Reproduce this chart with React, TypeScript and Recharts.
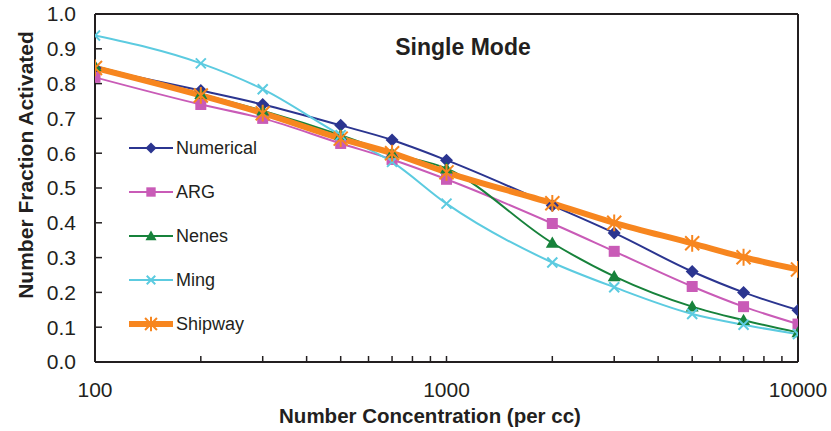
import React from "react";
import {
  Legend,
  Line,
  LineChart,
  ReferenceLine,
  XAxis,
  YAxis,
} from "recharts";

const concentrations = [100, 200, 300, 500, 700, 1000, 2000, 3000, 5000, 7000, 10000];
const numerical = [0.845, 0.78, 0.74, 0.68, 0.638, 0.58, 0.45, 0.371, 0.26, 0.2, 0.149];
const arg = [0.818, 0.74, 0.7, 0.628, 0.582, 0.525, 0.398, 0.318, 0.217, 0.159, 0.109];
const nenes = [0.85, 0.77, 0.722, 0.652, 0.6, 0.556, 0.342, 0.246, 0.159, 0.12, 0.085];
const ming = [0.938, 0.858, 0.784, 0.652, 0.575, 0.455, 0.286, 0.215, 0.138, 0.107, 0.08];
const shipway = [0.845, 0.766, 0.715, 0.642, 0.6, 0.545, 0.456, 0.4, 0.341, 0.301, 0.266];

const xTicks = [
  100, 200, 300, 400, 500, 600, 700, 800, 900,
  1000, 2000, 3000, 4000, 5000, 6000, 7000, 8000, 9000, 10000,
];
const xLabels = [100, 1000, 10000];
const yTicks = [0, 0.1, 0.2, 0.3, 0.4, 0.5, 0.6, 0.7, 0.8, 0.9, 1.0];

const rows = concentrations.map((c, i) => ({
  conc: c,
  numerical: numerical[i],
  arg: arg[i],
  nenes: nenes[i],
  ming: ming[i],
  shipway: shipway[i],
}));

type Shape = "diamond" | "square" | "triangle" | "x" | "star";

const SERIES: { key: string; name: string; color: string; width: number; shape: Shape }[] = [
  { key: "numerical", name: "Numerical", color: "#2b3590", width: 2, shape: "diamond" },
  { key: "arg", name: "ARG", color: "#c95bb7", width: 2, shape: "square" },
  { key: "nenes", name: "Nenes", color: "#17823b", width: 2, shape: "triangle" },
  { key: "ming", name: "Ming", color: "#5ccbe0", width: 2, shape: "x" },
  { key: "shipway", name: "Shipway", color: "#f7861f", width: 6, shape: "star" },
];

const INK = "#231f20";
const FONT = "'Liberation Sans', Arial, sans-serif";

function Marker({ cx, cy, shape, color, s = 1 }: { cx: number; cy: number; shape: Shape; color: string; s?: number }) {
  if (cx == null || cy == null) return null;
  switch (shape) {
    case "diamond": {
      const r = 6.5 * s;
      return <polygon points={`${cx},${cy - r} ${cx + r},${cy} ${cx},${cy + r} ${cx - r},${cy}`} fill={color} />;
    }
    case "square": {
      const h = 5.5 * s;
      return <rect x={cx - h} y={cy - h} width={h * 2} height={h * 2} fill={color} />;
    }
    case "triangle": {
      const r = 6.5 * s;
      return <polygon points={`${cx},${cy - r} ${cx + r},${cy + r * 0.75} ${cx - r},${cy + r * 0.75}`} fill={color} />;
    }
    case "x": {
      const h = 5 * s;
      return (
        <path d={`M${cx - h},${cy - h}L${cx + h},${cy + h}M${cx - h},${cy + h}L${cx + h},${cy - h}`} stroke={color} strokeWidth={2} />
      );
    }
    default: {
      const h = 7 * s;
      return (
        <path
          d={`M${cx - h},${cy - h}L${cx + h},${cy + h}M${cx - h},${cy + h}L${cx + h},${cy - h}M${cx},${cy - h * 1.2}L${cx},${cy + h * 1.2}`}
          stroke={color}
          strokeWidth={2}
        />
      );
    }
  }
}

function LegendBox() {
  return (
    <div style={{ fontFamily: FONT }}>
      {SERIES.map((s) => (
        <div key={s.key} style={{ display: "flex", alignItems: "center", height: 44 }}>
          <svg width={48} height={20}>
            <line x1={3} x2={47} y1={10} y2={10} stroke={s.color} strokeWidth={s.width} />
            <Marker cx={25} cy={10} shape={s.shape} color={s.color} s={0.85} />
          </svg>
          <span style={{ fontSize: 18, color: INK, marginLeft: 2 }}>{s.name}</span>
        </div>
      ))}
    </div>
  );
}

export default function App() {
  return (
    <div style={{ position: "absolute", left: 0, top: 0, width: 831, height: 431, background: "#fff" }}>
      <LineChart
        width={831}
        height={431}
        data={rows}
        margin={{ top: 14, right: 33, left: 0, bottom: 0 }}
      >
        <XAxis
          dataKey="conc"
          type="number"
          scale="log"
          domain={[100, 10000]}
          allowDataOverflow
          ticks={xTicks}
          interval={0}
          height={69}
          tickFormatter={(v: number) => (xLabels.includes(v) ? String(v) : "")}
          tick={{ fill: INK, fontSize: 21, fontFamily: FONT }}
          tickSize={-6}
          tickMargin={26}
          tickLine={{ stroke: INK, strokeWidth: 1.5 }}
          axisLine={{ stroke: INK, strokeWidth: 2 }}
        />
        <YAxis
          type="number"
          domain={[0, 1]}
          ticks={yTicks}
          interval={0}
          width={95}
          tickFormatter={(v: number) => v.toFixed(1)}
          tick={{ fill: INK, fontSize: 21, fontFamily: FONT }}
          tickSize={-7}
          tickMargin={26}
          tickLine={{ stroke: INK, strokeWidth: 1.5 }}
          axisLine={{ stroke: INK, strokeWidth: 2 }}
        />
        <ReferenceLine y={1} stroke={INK} strokeWidth={2} />
        <ReferenceLine x={10000} stroke={INK} strokeWidth={2} />
        {SERIES.map((s) => (
          <Line
            key={s.key}
            dataKey={s.key}
            name={s.name}
            type="monotone"
            stroke={s.color}
            strokeWidth={s.width}
            dot={(p: any) => <Marker key={`${s.key}-${p.index}`} cx={p.cx} cy={p.cy} shape={s.shape} color={s.color} />}
            activeDot={false}
            isAnimationActive={false}
          />
        ))}
        <Legend
          layout="vertical"
          align="center"
          verticalAlign="middle"
          content={() => <LegendBox />}
          wrapperStyle={{ left: 126, top: 126, width: 200 }}
        />
        <text x={463} y={55} textAnchor="middle" fontFamily={FONT} fontWeight="bold" fontSize={23} fill={INK}>
          Single Mode
        </text>
        <text
          x={0}
          y={0}
          transform="translate(33,165) rotate(-90)"
          textAnchor="middle"
          fontFamily={FONT}
          fontWeight="bold"
          fontSize={21}
          fill={INK}
        >
          Number Fraction Activated
        </text>
        <text x={430} y={423} textAnchor="middle" fontFamily={FONT} fontWeight="bold" fontSize={20.5} fill={INK}>
          Number Concentration (per cc)
        </text>
      </LineChart>
    </div>
  );
}
